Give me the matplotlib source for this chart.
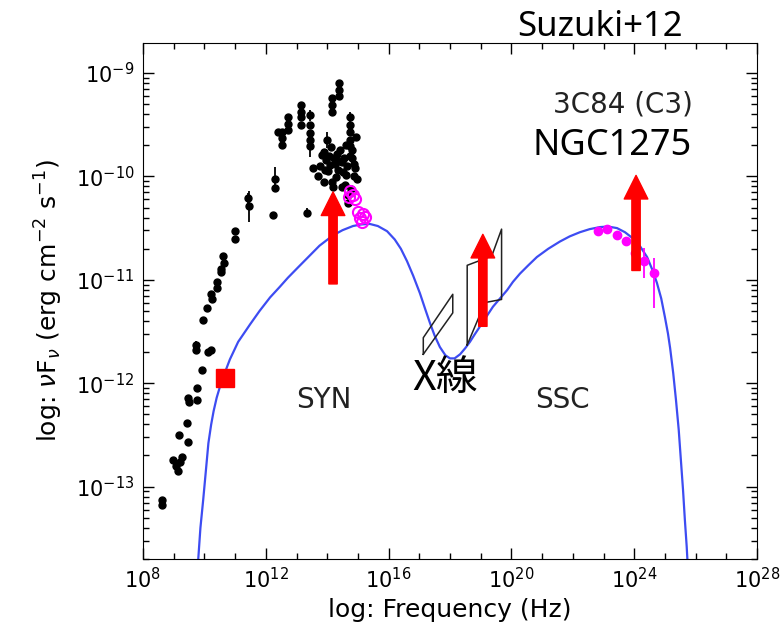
import numpy as np
import matplotlib
matplotlib.use("Agg")
from matplotlib import pyplot as plt
from matplotlib.ticker import NullFormatter, FixedLocator

# model SED (log10 nu [Hz], log10 nuFnu [erg cm^-2 s^-1])
model_lognu = [9.74, 9.80, 9.87, 9.96, 10.05, 10.13, 10.22, 10.30, 10.40, 10.51,
               10.65, 10.83, 11.10, 11.49, 11.80, 12.14, 12.45, 12.72, 13.05, 13.35,
               13.75, 14.19, 14.50, 14.84, 15.10, 15.39, 15.65, 15.95, 16.20, 16.40,
               16.60, 16.80, 17.02, 17.20, 17.35, 17.50, 17.67, 17.85, 18.00, 18.15,
               18.33, 18.50, 18.65, 18.80, 18.98, 19.20, 19.40, 19.63, 19.86, 20.05,
               20.28, 20.55, 20.83, 21.20, 21.58, 21.90, 22.23, 22.55, 22.89, 23.15,
               23.44, 23.70, 23.96, 24.20, 24.42, 24.60, 24.74, 24.88, 25.00, 25.10,
               25.17, 25.27, 25.36, 25.45, 25.52, 25.59, 25.65, 25.71, 25.75, 25.80]
model_logflux = [-14.0, -13.70, -13.40, -13.13, -12.84, -12.58, -12.40, -12.27, -12.14, -12.03,
                 -11.91, -11.77, -11.60, -11.43, -11.30, -11.17, -11.07, -10.98, -10.88, -10.79,
                 -10.67, -10.57, -10.52, -10.48, -10.465, -10.46, -10.48, -10.53, -10.61, -10.70,
                 -10.82, -10.96, -11.13, -11.29, -11.42, -11.54, -11.65, -11.73, -11.76, -11.76,
                 -11.72, -11.66, -11.60, -11.53, -11.45, -11.35, -11.26, -11.18, -11.10, -11.02,
                 -10.94, -10.86, -10.78, -10.70, -10.63, -10.58, -10.54, -10.51, -10.49, -10.485,
                 -10.50, -10.54, -10.60, -10.68, -10.78, -10.91, -11.03, -11.18, -11.36, -11.52,
                 -11.66, -11.90, -12.16, -12.45, -12.74, -13.03, -13.32, -13.58, -13.80, -14.0]

# archival radio-optical data (black)
arch_lognu = [8.62, 8.62, 8.98, 9.07, 9.21, 9.14, 9.27, 9.18, 9.48, 9.42,
              9.48, 9.51, 9.75, 9.75, 9.93, 9.73, 9.73, 10.13, 10.21, 9.94,
              10.07, 10.21, 10.24, 10.40, 10.40, 10.54, 10.54, 10.62, 10.64, 11.00,
              11.00, 11.43, 11.46, 12.22, 12.30, 12.30, 12.52, 12.52, 12.52, 12.40,
              12.73, 12.73, 12.73, 13.16, 13.16, 13.16, 13.16, 13.44, 13.44, 13.44,
              13.44, 13.44, 13.53, 13.69, 13.33, 14.15, 14.15, 14.15, 14.39, 14.39,
              14.39, 14.74, 14.74, 14.74, 14.74, 14.74, 14.74, 13.98, 14.20, 13.83,
              13.96, 14.09, 14.22, 14.35, 14.48, 14.61, 14.81, 14.91, 14.97, 13.93,
              14.42, 14.58, 14.29, 14.68, 14.47, 14.69, 14.81, 13.78, 13.88, 14.02,
              14.12, 14.26, 14.33, 14.52, 14.62, 14.86, 14.95, 14.05, 14.40, 14.55,
              14.88, 14.16, 14.64, 14.77, 13.90]
arch_logflux = [-13.13, -13.18, -12.74, -12.80, -12.76, -12.85, -12.71, -12.50, -12.57, -12.38,
                -12.14, -12.18, -12.16, -12.05, -11.87, -11.63, -11.68, -11.70, -11.68, -11.39,
                -11.27, -11.14, -11.19, -11.02, -11.08, -10.90, -10.92, -10.77, -10.84, -10.53,
                -10.61, -10.21, -10.29, -10.37, -10.03, -10.11, -9.57, -9.63, -9.70, -9.57,
                -9.43, -9.49, -9.55, -9.31, -9.38, -9.43, -9.50, -9.41, -9.50, -9.58,
                -9.65, -9.71, -9.92, -10.00, -10.35, -9.24, -9.31, -9.38, -9.10, -9.16,
                -9.22, -9.43, -9.50, -9.57, -9.65, -9.71, -9.80, -9.65, -10.10, -9.79,
                -9.84, -9.89, -9.82, -9.94, -9.86, -9.99, -9.82, -9.92, -10.03, -9.94,
                -9.74, -10.08, -10.01, -10.18, -10.10, -10.26, -9.74, -9.90, -9.76, -9.95,
                -9.72, -9.88, -9.78, -9.96, -9.70, -9.88, -9.62, -9.80, -9.85, -9.82,
                -10.00, -10.05, -9.90, -10.12, -10.05]
arch_err = [0, 0, 0, 0, 0, 0, 0, 0, 0, 0,
            0, 0, 0, 0, 0, 0.04, 0, 0, 0, 0,
            0, 0, 0, 0, 0, 0, 0, 0, 0, 0,
            0, 0.05, 0.15, 0, 0.12, 0, 0, 0, 0, 0,
            0, 0, 0, 0, 0, 0, 0, 0.05, 0, 0,
            0, 0.1, 0, 0, 0.04, 0, 0, 0, 0, 0,
            0, 0.05, 0, 0, 0, 0, 0, 0.08, 0, 0,
            0, 0, 0, 0, 0, 0, 0, 0, 0, 0,
            0, 0, 0, 0, 0, 0, 0, 0, 0, 0,
            0, 0, 0, 0, 0, 0, 0, 0, 0, 0,
            0, 0, 0, 0, 0]

# optical-UV (magenta open circles)
uv_lognu = [14.74, 14.85, 14.91, 14.72, 15.01, 15.16, 15.07, 15.23, 15.12]
uv_logflux = [-10.14, -10.18, -10.22, -10.20, -10.34, -10.36, -10.40, -10.39, -10.44]

# gamma-ray (magenta filled)
gam_lognu = [22.82, 23.11, 23.44, 23.73, 24.03, 24.32, 24.65]
gam_logflux = [-10.53, -10.51, -10.57, -10.62, -10.74, -10.82, -10.93]
gam_err_lo = [0, 0, 0, 0, 0, 0.16, 0.34]
gam_err_hi = [0, 0, 0, 0, 0, 0.13, 0.14]

# radio point (red square)
radio_lognu = [10.68]
radio_logflux = [-11.95]

# X-ray bowties
bow1_lognu = [17.13, 17.13, 18.09, 18.09, 17.13]
bow1_logflux = [-11.72, -11.56, -11.14, -11.32, -11.72]
bow2_lognu = [18.56, 18.56, 19.36, 19.68, 19.68, 19.14, 18.56]
bow2_logflux = [-11.63, -10.86, -10.77, -10.51, -11.19, -11.22, -11.63]

# flux increase arrows: log nu, log flux start, log flux end
arrow_lognu = [14.19, 19.07, 24.06]
arrow_from = [-11.04, -11.45, -10.91]
arrow_to = [-10.15, -10.56, -9.99]

W, H = 780, 629
fig = plt.figure(figsize=(W / 100, H / 100), dpi=100)
ax = fig.add_axes([143 / W, 1 - 559 / H, (757 - 143) / W, (559 - 43) / H])
ax.set_xscale("log")
ax.set_yscale("log")

p = lambda a: 10 ** np.asarray(a, dtype=float)

ax.plot(p(model_lognu), p(model_logflux), color="#3d4cf2", lw=1.6, zorder=2)

ay = p(arch_logflux)
ae = np.asarray(arch_err)
ax.errorbar(p(arch_lognu), ay,
            yerr=[ay - ay * 10 ** -ae, ay * 10 ** ae - ay],
            fmt="o", color="black", ms=5, elinewidth=1.3, capsize=0, zorder=3)

ax.plot(p(uv_lognu), p(uv_logflux), "o", mfc="none", mec="#ff00ff", ms=8, mew=1.5, zorder=4)

gy = p(gam_logflux)
ax.errorbar(p(gam_lognu), gy,
            yerr=[gy - gy * 10 ** -np.asarray(gam_err_lo), gy * 10 ** np.asarray(gam_err_hi) - gy],
            fmt="o", color="#ff00ff", ms=6, elinewidth=1.3, capsize=0, zorder=4)

ax.plot(p(radio_lognu), p(radio_logflux), "s", color="red", ms=13, zorder=5)

ax.plot(p(bow1_lognu), p(bow1_logflux), color="#222222", lw=1.1, zorder=3)
ax.plot(p(bow2_lognu), p(bow2_logflux), color="#222222", lw=1.1, zorder=3)

for lx, f0, f1 in zip(arrow_lognu, arrow_from, arrow_to):
    ax.annotate("", xy=(10 ** lx, 10 ** f1), xytext=(10 ** lx, 10 ** f0),
                arrowprops=dict(arrowstyle="simple,head_length=17,head_width=17,tail_width=6",
                                mutation_scale=1, color="red", shrinkA=0, shrinkB=0),
                zorder=6)

ax.set_xlim(1e8, 1e28)
ax.set_ylim(10 ** -13.70, 10 ** -8.71)

ax.xaxis.set_major_locator(FixedLocator([10.0 ** k for k in range(8, 29, 4)]))
ax.xaxis.set_minor_locator(FixedLocator([10.0 ** k for k in range(8, 29)]))
ax.xaxis.set_minor_formatter(NullFormatter())
ax.yaxis.set_major_locator(FixedLocator([10.0 ** k for k in range(-13, -8)]))
ax.yaxis.set_minor_locator(FixedLocator([m * 10.0 ** k for k in range(-14, -8) for m in range(2, 10)]))
ax.yaxis.set_minor_formatter(NullFormatter())
ax.tick_params(which="both", direction="in", top=True, right=True, labelsize=15, pad=6)
ax.tick_params(which="major", length=8, width=1)
ax.tick_params(which="minor", length=4, width=1)

ax.set_xlabel("log: Frequency (Hz)", fontsize=18, labelpad=4)
ax.set_ylabel(r"log: $\nu$F$_\nu$ (erg cm$^{-2}$ s$^{-1}$)", fontsize=18, labelpad=8)

fig.text(600 / W, 1 - 36 / H, "Suzuki+12", fontsize=25, family="Noto Sans",
         ha="center", va="baseline")
fig.text(623 / W, 1 - 112.7 / H, "3C84 (C3)", fontsize=20, ha="center", va="baseline",
         color="#222222")
fig.text(612 / W, 1 - 155 / H, "NGC1275", fontsize=26, family="Noto Sans",
         ha="center", va="baseline")
fig.text(324 / W, 1 - 400 / H, "SYN", fontsize=20, ha="center", va="center", color="#222222")
fig.text(562 / W, 1 - 400 / H, "SSC", fontsize=20, ha="center", va="center", color="#222222")
fig.text(445 / W, 1 - 378 / H, "X線", fontsize=30, family=["Noto Sans CJK JP", "DejaVu Sans"],
         ha="center", va="center")

fig.savefig("out.png", dpi=100)
